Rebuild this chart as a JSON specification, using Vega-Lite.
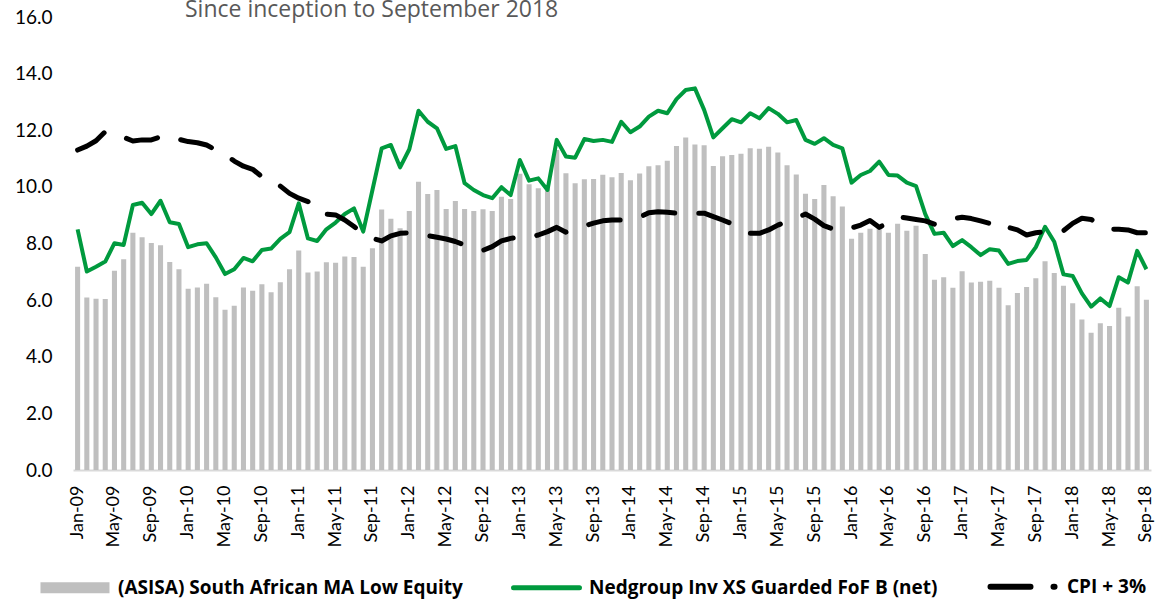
{
  "$schema": "https://vega.github.io/schema/vega-lite/v6.json",
  "width": 1078,
  "height": 453,
  "autosize": {"type": "none"},
  "padding": {"left": 73, "top": 17, "right": 6, "bottom": 130},
  "background": "#ffffff",
  "config": {"view": {"stroke": null}, "font": "Lato"},
  "title": {
    "text": "Since inception to September 2018",
    "anchor": "start",
    "frame": "group",
    "font": "Open Sans",
    "fontSize": 23,
    "fontWeight": "normal",
    "color": "#595959",
    "baseline": "alphabetic",
    "offset": 1,
    "dx": 112,
    "dy": 33
  },
  "data": {
    "values": [
      {"m":"Jan-09","a":7.18,"g":8.50,"c":11.30},
      {"m":"Feb-09","a":6.09,"g":7.01,"c":11.44},
      {"m":"Mar-09","a":6.05,"g":7.18,"c":11.63},
      {"m":"Apr-09","a":6.04,"g":7.36,"c":11.95},
      {"m":"May-09","a":7.04,"g":8.01,"c":11.89},
      {"m":"Jun-09","a":7.44,"g":7.95,"c":11.75},
      {"m":"Jul-09","a":8.38,"g":9.36,"c":11.62},
      {"m":"Aug-09","a":8.22,"g":9.44,"c":11.66},
      {"m":"Sep-09","a":8.02,"g":9.04,"c":11.66},
      {"m":"Oct-09","a":7.94,"g":9.51,"c":11.77},
      {"m":"Nov-09","a":7.35,"g":8.75,"c":11.80},
      {"m":"Dec-09","a":7.09,"g":8.69,"c":11.68},
      {"m":"Jan-10","a":6.40,"g":7.87,"c":11.60},
      {"m":"Feb-10","a":6.45,"g":7.97,"c":11.56},
      {"m":"Mar-10","a":6.58,"g":8.01,"c":11.48},
      {"m":"Apr-10","a":6.10,"g":7.51,"c":11.30},
      {"m":"May-10","a":5.66,"g":6.92,"c":11.15},
      {"m":"Jun-10","a":5.80,"g":7.09,"c":10.91},
      {"m":"Jul-10","a":6.45,"g":7.49,"c":10.73},
      {"m":"Aug-10","a":6.33,"g":7.37,"c":10.62},
      {"m":"Sep-10","a":6.56,"g":7.77,"c":10.36},
      {"m":"Oct-10","a":6.28,"g":7.82,"c":10.10},
      {"m":"Nov-10","a":6.63,"g":8.16,"c":10.03},
      {"m":"Dec-10","a":7.09,"g":8.40,"c":9.77},
      {"m":"Jan-11","a":7.75,"g":9.42,"c":9.60},
      {"m":"Feb-11","a":6.98,"g":8.18,"c":9.48},
      {"m":"Mar-11","a":7.01,"g":8.09,"c":9.12},
      {"m":"Apr-11","a":7.34,"g":8.50,"c":9.04},
      {"m":"May-11","a":7.32,"g":8.74,"c":9.01},
      {"m":"Jun-11","a":7.54,"g":9.04,"c":8.83},
      {"m":"Jul-11","a":7.52,"g":9.24,"c":8.60},
      {"m":"Aug-11","a":7.18,"g":8.42,"c":8.34},
      {"m":"Sep-11","a":7.83,"g":9.89,"c":8.18},
      {"m":"Oct-11","a":9.20,"g":11.36,"c":8.09},
      {"m":"Nov-11","a":8.87,"g":11.48,"c":8.27},
      {"m":"Dec-11","a":8.54,"g":10.69,"c":8.36},
      {"m":"Jan-12","a":9.15,"g":11.33,"c":8.38},
      {"m":"Feb-12","a":10.18,"g":12.69,"c":8.35},
      {"m":"Mar-12","a":9.75,"g":12.30,"c":8.28},
      {"m":"Apr-12","a":9.89,"g":12.07,"c":8.22},
      {"m":"May-12","a":9.22,"g":11.34,"c":8.16},
      {"m":"Jun-12","a":9.50,"g":11.44,"c":8.07},
      {"m":"Jul-12","a":9.22,"g":10.13,"c":7.95},
      {"m":"Aug-12","a":9.15,"g":9.89,"c":7.85},
      {"m":"Sep-12","a":9.21,"g":9.71,"c":7.76},
      {"m":"Oct-12","a":9.15,"g":9.60,"c":7.89},
      {"m":"Nov-12","a":9.65,"g":9.99,"c":8.09},
      {"m":"Dec-12","a":9.57,"g":9.71,"c":8.18},
      {"m":"Jan-13","a":10.46,"g":10.95,"c":8.24},
      {"m":"Feb-13","a":10.09,"g":10.22,"c":8.21},
      {"m":"Mar-13","a":9.95,"g":10.30,"c":8.30},
      {"m":"Apr-13","a":10.00,"g":9.89,"c":8.42},
      {"m":"May-13","a":11.30,"g":11.66,"c":8.57},
      {"m":"Jun-13","a":10.48,"g":11.07,"c":8.40},
      {"m":"Jul-13","a":10.13,"g":11.03,"c":8.48},
      {"m":"Aug-13","a":10.27,"g":11.69,"c":8.62},
      {"m":"Sep-13","a":10.28,"g":11.62,"c":8.72},
      {"m":"Oct-13","a":10.43,"g":11.66,"c":8.80},
      {"m":"Nov-13","a":10.34,"g":11.59,"c":8.83},
      {"m":"Dec-13","a":10.49,"g":12.30,"c":8.83},
      {"m":"Jan-14","a":10.23,"g":11.93,"c":8.87},
      {"m":"Feb-14","a":10.47,"g":12.13,"c":8.93},
      {"m":"Mar-14","a":10.73,"g":12.48,"c":9.09},
      {"m":"Apr-14","a":10.76,"g":12.69,"c":9.12},
      {"m":"May-14","a":10.92,"g":12.60,"c":9.10},
      {"m":"Jun-14","a":11.44,"g":13.10,"c":9.07},
      {"m":"Jul-14","a":11.74,"g":13.42,"c":9.07},
      {"m":"Aug-14","a":11.50,"g":13.48,"c":9.07},
      {"m":"Sep-14","a":11.47,"g":12.72,"c":9.07},
      {"m":"Oct-14","a":10.74,"g":11.75,"c":8.95},
      {"m":"Nov-14","a":11.08,"g":12.07,"c":8.83},
      {"m":"Dec-14","a":11.13,"g":12.39,"c":8.70},
      {"m":"Jan-15","a":11.17,"g":12.28,"c":8.57},
      {"m":"Feb-15","a":11.36,"g":12.60,"c":8.36},
      {"m":"Mar-15","a":11.35,"g":12.42,"c":8.36},
      {"m":"Apr-15","a":11.42,"g":12.78,"c":8.48},
      {"m":"May-15","a":11.21,"g":12.58,"c":8.65},
      {"m":"Jun-15","a":10.76,"g":12.28,"c":8.78},
      {"m":"Jul-15","a":10.44,"g":12.36,"c":8.90},
      {"m":"Aug-15","a":9.76,"g":11.66,"c":9.04},
      {"m":"Sep-15","a":9.57,"g":11.52,"c":8.86},
      {"m":"Oct-15","a":10.07,"g":11.72,"c":8.63},
      {"m":"Nov-15","a":9.67,"g":11.48,"c":8.51},
      {"m":"Dec-15","a":9.31,"g":11.36,"c":8.45},
      {"m":"Jan-16","a":8.17,"g":10.15,"c":8.55},
      {"m":"Feb-16","a":8.38,"g":10.42,"c":8.65},
      {"m":"Mar-16","a":8.52,"g":10.56,"c":8.81},
      {"m":"Apr-16","a":8.60,"g":10.89,"c":8.57},
      {"m":"May-16","a":8.38,"g":10.42,"c":8.74},
      {"m":"Jun-16","a":8.70,"g":10.40,"c":8.95},
      {"m":"Jul-16","a":8.45,"g":10.15,"c":8.90},
      {"m":"Aug-16","a":8.63,"g":10.03,"c":8.85},
      {"m":"Sep-16","a":7.63,"g":9.04,"c":8.80},
      {"m":"Oct-16","a":6.72,"g":8.34,"c":8.68},
      {"m":"Nov-16","a":6.81,"g":8.38,"c":8.80},
      {"m":"Dec-16","a":6.44,"g":7.91,"c":8.87},
      {"m":"Jan-17","a":7.02,"g":8.12,"c":8.93},
      {"m":"Feb-17","a":6.62,"g":7.87,"c":8.88},
      {"m":"Mar-17","a":6.65,"g":7.59,"c":8.80},
      {"m":"Apr-17","a":6.68,"g":7.80,"c":8.71},
      {"m":"May-17","a":6.44,"g":7.75,"c":8.48},
      {"m":"Jun-17","a":5.82,"g":7.28,"c":8.57},
      {"m":"Jul-17","a":6.25,"g":7.38,"c":8.48},
      {"m":"Aug-17","a":6.46,"g":7.42,"c":8.30},
      {"m":"Sep-17","a":6.77,"g":7.87,"c":8.38},
      {"m":"Oct-17","a":7.37,"g":8.59,"c":8.42},
      {"m":"Nov-17","a":6.96,"g":8.06,"c":8.42},
      {"m":"Dec-17","a":6.51,"g":6.91,"c":8.45},
      {"m":"Jan-18","a":5.89,"g":6.85,"c":8.71},
      {"m":"Feb-18","a":5.32,"g":6.24,"c":8.89},
      {"m":"Mar-18","a":4.85,"g":5.77,"c":8.85},
      {"m":"Apr-18","a":5.18,"g":6.06,"c":8.65},
      {"m":"May-18","a":5.09,"g":5.79,"c":8.51},
      {"m":"Jun-18","a":5.73,"g":6.81,"c":8.50},
      {"m":"Jul-18","a":5.42,"g":6.62,"c":8.48},
      {"m":"Aug-18","a":6.49,"g":7.74,"c":8.38},
      {"m":"Sep-18","a":6.01,"g":7.09,"c":8.38}
    ]
  },
  "encoding": {
    "x": {
      "field": "m",
      "type": "nominal",
      "sort": null,
      "scale": {"paddingInner": 0.45, "paddingOuter": 0.225},
      "axis": {
        "title": null,
        "values": ["Jan-09","May-09","Sep-09","Jan-10","May-10","Sep-10","Jan-11","May-11","Sep-11","Jan-12","May-12","Sep-12","Jan-13","May-13","Sep-13","Jan-14","May-14","Sep-14","Jan-15","May-15","Sep-15","Jan-16","May-16","Sep-16","Jan-17","May-17","Sep-17","Jan-18","May-18","Sep-18"],
        "labelAngle": -90,
        "labelFont": "Lato",
        "labelFontSize": 18,
        "labelColor": "#000000",
        "labelPadding": 15,
        "ticks": false,
        "domainColor": "#d9d9d9",
        "domainWidth": 2,
        "grid": false
      }
    }
  },
  "layer": [
    {
      "mark": {"type": "bar", "color": "#bfbfbf"},
      "encoding": {
        "y": {
          "field": "a",
          "type": "quantitative",
          "scale": {"domain": [0, 16], "nice": false},
          "axis": {
            "title": null,
            "values": [0, 2, 4, 6, 8, 10, 12, 14, 16],
            "format": ".1f",
            "domain": false,
            "ticks": false,
            "grid": false,
            "labelFont": "Lato",
            "labelFontSize": 19,
            "labelColor": "#000000",
            "labelPadding": 21
          }
        },
        "color": {
          "datum": "(ASISA) South African MA Low Equity",
          "type": "nominal",
          "scale": {
            "domain": ["(ASISA) South African MA Low Equity", "Nedgroup Inv XS Guarded FoF B (net)", "CPI + 3%"],
            "range": ["#bfbfbf", "#009A3E", "#000000"]
          },
          "legend": {
            "title": null,
            "orient": "none",
            "legendX": -34,
            "legendY": 560,
            "direction": "horizontal",
            "columns": 3,
            "symbolSize": 4900,
            "symbolOffset": 0,
            "labelFont": "Open Sans",
            "labelFontSize": 19,
            "labelFontWeight": "bold",
            "labelColor": "#000000",
            "labelOffset": 60,
            "labelLimit": 600,
            "columnPadding": 40,
            "padding": 0,
            "encode": {
              "symbols": {
                "update": {
                  "shape": {"signal": "datum.value === '(ASISA) South African MA Low Equity' ? 'M-0.229,-0.157H1.743V0.157H-0.229Z' : (datum.value === 'CPI + 3%' ? 'M-0.2,0H0.943M1.6,0H1.63' : 'M-0.171,0H1.714')"},
                  "fill": {"signal": "datum.value === '(ASISA) South African MA Low Equity' ? '#bfbfbf' : 'transparent'"},
                  "stroke": {"signal": "datum.value === '(ASISA) South African MA Low Equity' ? 'transparent' : (datum.value === 'CPI + 3%' ? '#000000' : '#009A3E')"},
                  "strokeWidth": {"signal": "datum.value === '(ASISA) South African MA Low Equity' ? 0 : (datum.value === 'CPI + 3%' ? 6 : 5)"},
                  "strokeCap": {"value": "round"},
                  "opacity": {"value": 1}
                }
              }
            }
          }
        }
      }
    },
    {
      "mark": {"type": "line", "strokeWidth": 4, "strokeJoin": "round"},
      "encoding": {
        "y": {"field": "g", "type": "quantitative"},
        "color": {"datum": "Nedgroup Inv XS Guarded FoF B (net)", "type": "nominal"}
      }
    },
    {
      "mark": {"type": "line", "strokeWidth": 5, "strokeDash": [32, 24], "strokeCap": "round", "strokeJoin": "round"},
      "encoding": {
        "y": {"field": "c", "type": "quantitative"},
        "color": {"datum": "CPI + 3%", "type": "nominal"}
      }
    }
  ]
}
